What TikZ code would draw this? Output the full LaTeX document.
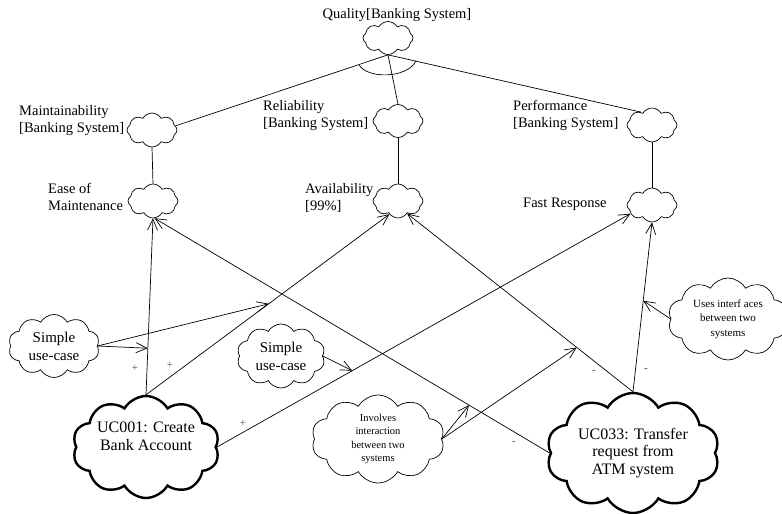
\documentclass[tikz,border=0pt]{standalone}
\usepackage{fontspec}
\setmainfont{Liberation Serif}
\usetikzlibrary{shapes.symbols,arrows.meta,calc}

\begin{document}
\begin{tikzpicture}[x=1pt,y=-1pt,
  softgoal/.style={cloud, cloud puffs=8, cloud puff arc=120, cloud ignores aspect,
    draw, line width=0.7pt, inner sep=0pt, minimum width=50pt, minimum height=34pt},
  claim/.style={cloud, cloud puffs=10, cloud puff arc=120, cloud ignores aspect,
    draw, line width=0.7pt, inner sep=0pt, align=center},
  usecase/.style={claim, line width=2.4pt},
  caption/.style={inner sep=0pt, align=left, anchor=base west,
    font=\fontsize{14.5}{17}\selectfont},
  link/.style={line width=0.7pt},
  contrib/.style={line width=0.7pt, -{Straight Barb[length=11pt,width=10pt,line width=0.7pt]}},
  sign/.style={inner sep=0pt, text=black!70, font=\fontsize{11}{12}\selectfont}
]
\useasboundingbox (0,0) rectangle (782,514);

% softgoal hierarchy (captions anchored on the baseline of their last line)
\node[softgoal, minimum height=33pt] (q) at (388,38) {};
\node[caption, anchor=base] (qlab) at (397,19) {Quality[Banking System]};

\node[softgoal] (maint) at (152,130) {};
\node[caption] (maintlab) at (19,132) {Maintainability\\{[}Banking System{]}};
\node[softgoal, minimum height=33pt] (rel) at (398,121) {};
\node[caption] (rellab) at (263,127) {Reliability\\{[}Banking System{]}};
\node[softgoal] (perf) at (652,125) {};
\node[caption] (perflab) at (513,127) {Performance\\{[}Banking System{]}};

\node[softgoal] (ease) at (153,201) {};
\node[caption] (easelab) at (48,210) {Ease of\\Maintenance};
\node[softgoal] (avail) at (398,201) {};
\node[caption] (availlab) at (305,210) {Availability\\{[}99\%{]}};
\node[softgoal] (fast) at (652,205) {};
\node[caption] (fastlab) at (523,207) {Fast Response};

\draw[link] (maint.10) -- (q.south);
\draw[link] (rel.north) -- (q.south);
\draw[link] (perf.130) -- (q.south);
\draw[link] ($(q.south)+(-29,10)$) .. controls +(8,14) and +(-9,18) .. ($(q.south)+(28,6)$);

\draw[link] (maint.south) -- (ease.north);
\draw[link] (rel.south) -- (avail.north);
\draw[link] (perf.south) -- (fast.north);

% use cases and claims
\node[usecase, minimum width=147pt, minimum height=102pt,
  font=\fontsize{16}{17.5}\selectfont] (uc1) at (146,447) {UC001: Create\\Bank Account\\[4pt]};
\node[usecase, minimum width=173pt, minimum height=120pt,
  font=\fontsize{16}{17.5}\selectfont] (uc33) at (633,453) {UC033: Transfer\\request from\\ATM system};
\node[claim, minimum width=91pt, minimum height=63pt,
  font=\fontsize{15}{18}\selectfont] (s1) at (54,346) {Simple\\use-case};
\node[claim, minimum width=88pt, minimum height=64pt,
  font=\fontsize{15}{18}\selectfont] (s2) at (281,356) {Simple\\use-case};
\node[claim, minimum width=133pt, minimum height=88pt,
  font=\fontsize{10.5}{13.5}\selectfont] (inv) at (378,439) {Involves\\interaction\\between two\\systems};
\node[claim, minimum width=120pt, minimum height=82pt,
  font=\fontsize{11}{14.5}\selectfont] (uses) at (728,319) {Uses interf aces\\between two\\systems};

% contributions
\draw[contrib] (uc1.north) -- coordinate[pos=0.264] (c1) (ease.south);
\draw[contrib] (uc1.north) -- coordinate[pos=0.504] (c2) (avail.237);
\draw[contrib] (uc1.east) -- coordinate[pos=0.327] (c3) (fast.202);
\draw[contrib] (uc33.west) -- coordinate[pos=0.204] (c4) (ease.-85);
\draw[contrib] (uc33.north) -- coordinate[pos=0.249] (c5) (avail.306);
\draw[contrib] (uc33.north) -- coordinate[pos=0.538] (c6) (fast.south);

% claims on contributions
\draw[contrib] (s1.east) -- (c1);
\draw[contrib] (s1.east) -- (c2);
\draw[contrib] (s2.east) -- (c3);
\draw[contrib] (inv.east) -- (c4);
\draw[contrib] (inv.east) -- (c5);
\draw[contrib] (uses.west) -- (c6);

% contribution signs
\node[sign] (p1) at (135,368) {+};
\node[sign] (p2) at (170,365) {+};
\node[sign] (p3) at (243,423) {+};
\node[sign] (m1) at (514,443) {-};
\node[sign] (m2) at (594,372) {-};
\node[sign] (m3) at (646,370) {-};
\end{tikzpicture}
\end{document}
